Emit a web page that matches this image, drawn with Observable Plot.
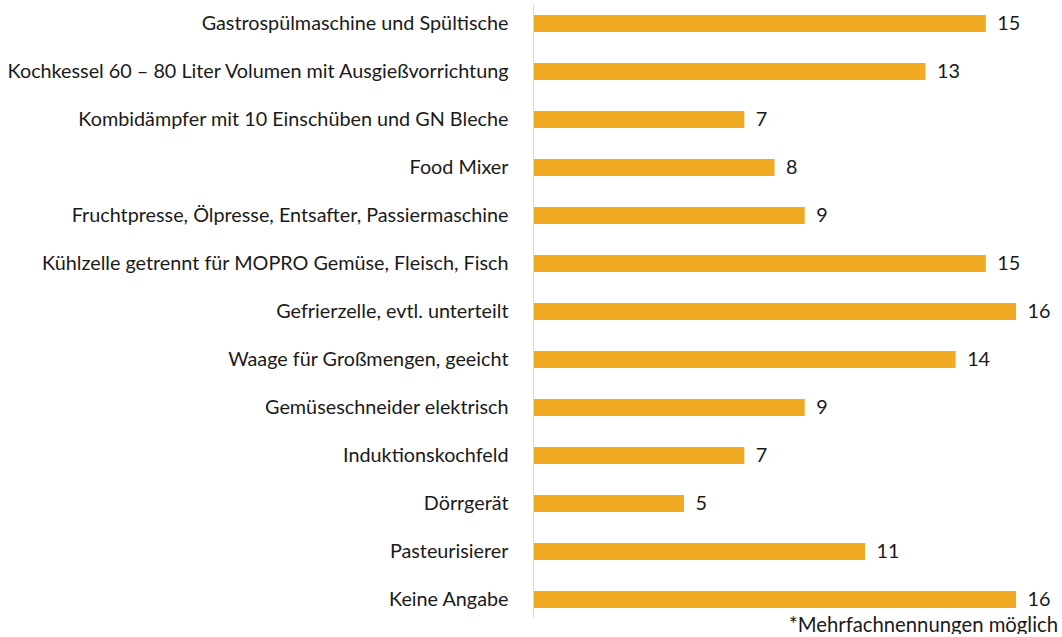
<!DOCTYPE html>
<html>
<head>
<meta charset="utf-8">
<script src="https://cdn.jsdelivr.net/npm/d3@7"></script>
<script src="https://cdn.jsdelivr.net/npm/@observablehq/plot@0.6"></script>
<style>
  body { margin: 0; background: #fff; font-family: Lato, sans-serif; }
  #chart svg { display: block; }
  #note { width: 1062px; text-align: right; font-size: 20.3px; color: #1a1a1a; line-height: 20px; margin-top: -6px; box-sizing: border-box; padding-right: 4px; }
</style>
</head>
<body>
<div id="chart"></div>
<div id="note">*Mehrfachnennungen möglich</div>
<script>
const categories = [
  "Gastrospülmaschine und Spültische",
  "Kochkessel 60 – 80 Liter Volumen mit Ausgießvorrichtung",
  "Kombidämpfer mit 10 Einschüben und GN Bleche",
  "Food Mixer",
  "Fruchtpresse, Ölpresse, Entsafter, Passiermaschine",
  "Kühlzelle getrennt für MOPRO Gemüse, Fleisch, Fisch",
  "Gefrierzelle, evtl. unterteilt",
  "Waage für Großmengen, geeicht",
  "Gemüseschneider elektrisch",
  "Induktionskochfeld",
  "Dörrgerät",
  "Pasteurisierer",
  "Keine Angabe"
];
const values = [15, 13, 7, 8, 9, 15, 16, 14, 9, 7, 5, 11, 16];

const data = categories.map((c, i) => ({category: c, value: values[i]}));

const chart = Plot.plot({
  width: 1062,
  height: 620,
  marginLeft: 533,
  marginRight: 46,
  marginTop: 5,
  marginBottom: 2,
  style: {fontFamily: "Lato, sans-serif", fontSize: "19.8px", color: "#1a1a1a", background: "#fff"},
  x: {domain: [0, 16], axis: null},
  y: {domain: categories, paddingInner: 0.646, paddingOuter: 0.2, label: null},
  marks: [
    Plot.barX(data, {x: "value", y: "category", fill: "#F0AB22"}),
    Plot.ruleX([0], {stroke: "#d9d9d9", strokeWidth: 1}),
    Plot.text(data, {x: "value", y: "category", text: d => String(d.value), textAnchor: "start", dx: 11, fill: "#1a1a1a", fontSize: 19.8}),
    Plot.axisY({tickSize: 0, tickPadding: 25, fontSize: 19.8, label: null, fill: "#1a1a1a"})
  ]
});
document.getElementById("chart").appendChild(chart);
</script>
</body>
</html>
